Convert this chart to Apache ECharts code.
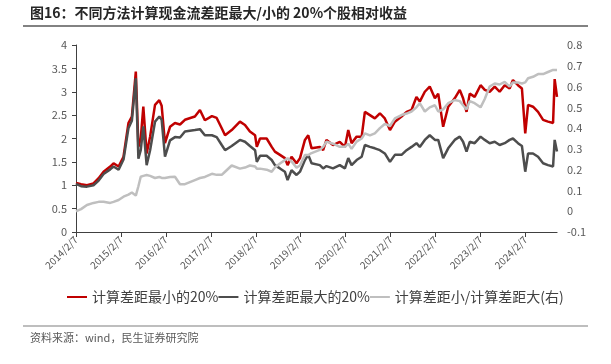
<!DOCTYPE html>
<html>
<head>
<meta charset="utf-8">
<script src="https://cdn.jsdelivr.net/npm/echarts@6/dist/echarts.min.js"></script>
<style>
html, body { margin: 0; padding: 0; background: #fff; }
#chart { width: 611px; height: 364px; }
</style>
</head>
<body>
<div id="chart"></div>
<script>
// 日期
var dates = [
  '2014-02-07','2014-03-20','2014-05-07','2014-06-29','2014-08-10','2014-09-19','2014-11-12','2014-12-09',
  '2015-01-19','2015-02-28','2015-04-09','2015-05-07','2015-06-08','2015-06-29','2015-07-18','2015-08-08',
  '2015-09-04','2015-10-02','2015-11-11','2015-12-16','2016-01-04','2016-01-31','2016-03-12','2016-04-21',
  '2016-06-01','2016-07-11','2016-09-30','2016-11-10','2016-12-20','2017-02-15','2017-03-26','2017-05-06',
  '2017-06-02','2017-07-26','2017-10-01','2017-11-11','2017-12-21','2018-02-01','2018-02-15','2018-03-13',
  '2018-05-06','2018-06-16','2018-07-12','2018-08-22','2018-10-01','2018-10-23','2018-11-24','2019-01-04',
  '2019-02-01','2019-03-13','2019-04-09','2019-05-06','2019-07-12','2019-08-08','2019-09-04','2019-10-27',
  '2019-12-21','2020-02-01','2020-02-28','2020-03-26','2020-05-06','2020-06-16','2020-07-12','2020-08-22',
  '2020-10-01','2020-11-11','2020-12-21','2021-02-01','2021-03-13','2021-05-06','2021-06-16','2021-07-26',
  '2021-09-04','2021-10-01','2021-11-11','2021-12-21','2022-02-01','2022-02-28','2022-04-09','2022-05-20',
  '2022-07-12','2022-08-22','2022-09-18','2022-10-16','2022-11-11','2022-12-21','2023-02-07','2023-03-13',
  '2023-04-22','2023-06-02','2023-07-12','2023-08-22','2023-10-01','2023-10-28','2023-12-08','2024-01-09',
  '2024-02-05','2024-02-28','2024-04-08','2024-05-19','2024-06-29','2024-08-08','2024-09-18','2024-10-01',
  '2024-10-20'
];

// 计算差距最小的20%
var minGap = [
  1.05,1.02,1.00,1.04,1.15,1.29,1.40,1.47,
  1.40,1.61,2.33,2.47,3.43,1.82,2.00,2.68,
  1.68,2.04,2.72,2.82,2.70,1.90,2.25,2.33,
  2.30,2.40,2.47,2.61,2.39,2.48,2.44,2.22,
  2.07,2.18,2.36,2.29,2.15,2.07,1.82,2.00,
  2.00,1.82,1.72,1.65,1.58,1.43,1.61,1.47,
  1.58,1.97,2.07,1.79,1.82,1.75,1.97,1.86,
  1.93,1.82,2.18,1.90,2.04,2.04,2.57,2.50,
  2.43,2.54,2.43,2.18,2.36,2.47,2.57,2.61,
  2.89,2.79,3.00,3.11,2.86,2.96,2.25,2.68,
  2.86,3.04,2.86,2.57,2.96,2.89,3.14,3.04,
  3.00,3.11,3.00,3.14,3.07,3.25,3.14,3.07,
  2.11,2.72,2.68,2.57,2.40,2.36,2.33,3.27,
  2.89
];

// 计算差距最大的20%
var maxGap = [
  1.03,0.98,0.97,1.00,1.10,1.24,1.34,1.40,
  1.33,1.55,2.22,2.38,3.29,1.57,1.75,2.26,
  1.43,1.75,2.36,2.47,2.40,1.61,1.96,2.03,
  2.02,2.15,2.18,2.20,2.07,2.07,2.03,1.86,
  1.75,1.84,1.97,1.93,1.84,1.75,1.50,1.63,
  1.63,1.54,1.43,1.36,1.29,1.11,1.32,1.22,
  1.29,1.54,1.65,1.47,1.43,1.36,1.41,1.36,
  1.43,1.36,1.58,1.43,1.54,1.61,1.86,1.82,
  1.79,1.75,1.68,1.50,1.65,1.65,1.75,1.82,
  1.90,1.82,1.97,2.07,1.97,1.97,1.58,1.79,
  1.97,2.04,1.93,1.72,1.93,1.90,2.04,1.97,
  1.90,1.93,1.86,1.90,1.97,2.00,1.90,1.84,
  1.29,1.68,1.68,1.61,1.47,1.43,1.40,1.97,
  1.72
];

// 计算差距小/计算差距大(右)
var ratio = [
  0.000,0.010,0.030,0.040,0.045,0.046,0.040,0.045,
  0.054,0.070,0.080,0.090,0.075,0.120,0.166,0.170,
  0.174,0.170,0.160,0.165,0.160,0.160,0.165,0.166,
  0.130,0.130,0.150,0.160,0.165,0.180,0.175,0.175,
  0.190,0.220,0.205,0.210,0.220,0.215,0.205,0.205,
  0.200,0.190,0.210,0.230,0.246,0.255,0.240,0.210,
  0.220,0.270,0.270,0.280,0.295,0.310,0.335,0.325,
  0.310,0.310,0.325,0.300,0.335,0.350,0.375,0.365,
  0.375,0.400,0.420,0.410,0.447,0.463,0.470,0.480,
  0.500,0.520,0.480,0.500,0.510,0.480,0.490,0.520,
  0.535,0.530,0.510,0.490,0.530,0.520,0.500,0.540,
  0.600,0.615,0.610,0.623,0.600,0.620,0.620,0.615,
  0.620,0.640,0.647,0.660,0.660,0.670,0.680,0.680,
  0.680
];

var tickLabels = ['2014/2/7','2015/2/7','2016/2/7','2017/2/7','2018/2/7','2019/2/7',
  '2020/2/7','2021/2/7','2022/2/7','2023/2/7','2024/2/7'];

function toTs(s) {
  var p = s.split(/[-\/]/);
  return Date.UTC(+p[0], +p[1] - 1, +p[2]);
}

var tickTs = tickLabels.map(toTs);

function pairs(vals) {
  return dates.map(function (d, i) { return [toTs(d), vals[i]]; });
}

var chart = echarts.init(document.getElementById('chart'));

var option = {
  animation: false,
  textStyle: { fontFamily: '"Noto Sans CJK SC", "Noto Sans", sans-serif' },
  grid: { left: 76, right: 54, top: 45, bottom: 132, containLabel: false },
  graphic: [
    {
      type: 'text', left: 30, top: 6,
      style: { text: '图16：不同方法计算现金流差距最大/小的 20%个股相对收益', fontSize: 14, fontWeight: 'bold',
        fill: '#262626', fontFamily: '"Noto Sans CJK SC", sans-serif' }
    },
    {
      type: 'line', shape: { x1: 23, y1: 26, x2: 588, y2: 26 },
      style: { stroke: '#595959', lineWidth: 1.5 }
    },
    {
      type: 'line', shape: { x1: 23, y1: 326, x2: 588, y2: 326 },
      style: { stroke: '#7f7f7f', lineWidth: 1.2 }
    },
    {
      type: 'text', left: 30, top: 332,
      style: { text: '资料来源：wind，民生证券研究院', fontSize: 11, fill: '#595959',
        fontFamily: '"Noto Sans CJK SC", sans-serif' }
    }
  ],
  legend: {
    left: 62, top: 285,
    icon: 'rect', itemWidth: 20, itemHeight: 2, itemGap: 0,
    textStyle: { fontSize: 14, color: '#404040' },
    data: ['计算差距最小的20%', '计算差距最大的20%', '计算差距小/计算差距大(右)']
  },
  xAxis: {
    type: 'value',
    min: toTs(dates[0]),
    max: toTs(dates[dates.length - 1]),
    splitLine: { show: false },
    axisLine: { lineStyle: { color: '#404040', width: 1.2 } },
    axisTick: { show: true, length: 5, lineStyle: { color: '#404040' }, customValues: tickTs },
    axisLabel: {
      rotate: 45, fontSize: 10, color: '#595959', margin: 6,
      customValues: tickTs,
      formatter: function (v) {
        var i = tickTs.indexOf(v);
        return i >= 0 ? tickLabels[i] : '';
      }
    }
  },
  yAxis: [
    {
      type: 'value', min: 0, max: 4, interval: 0.5,
      splitLine: { show: false },
      axisLine: { show: true, lineStyle: { color: '#404040' } },
      axisTick: { show: true, length: 4, lineStyle: { color: '#404040' } },
      axisLabel: { fontSize: 11, color: '#595959', margin: 9 }
    },
    {
      type: 'value', min: -0.1, max: 0.8, interval: 0.1,
      splitLine: { show: false },
      axisLine: { show: false },
      axisTick: { show: false },
      axisLabel: { fontSize: 11, color: '#595959', margin: 10 }
    }
  ],
  series: [
    {
      name: '计算差距最小的20%', type: 'line', yAxisIndex: 0, showSymbol: false,
      data: pairs(minGap), color: '#C00000', lineStyle: { width: 2.5 }
    },
    {
      name: '计算差距最大的20%', type: 'line', yAxisIndex: 0, showSymbol: false,
      data: pairs(maxGap), color: '#4D4D4D', lineStyle: { width: 2.5 }
    },
    {
      name: '计算差距小/计算差距大(右)', type: 'line', yAxisIndex: 1, showSymbol: false,
      data: pairs(ratio), color: '#BFBFBF', lineStyle: { width: 2.5 }
    }
  ]
};

chart.setOption(option);
</script>
</body>
</html>
